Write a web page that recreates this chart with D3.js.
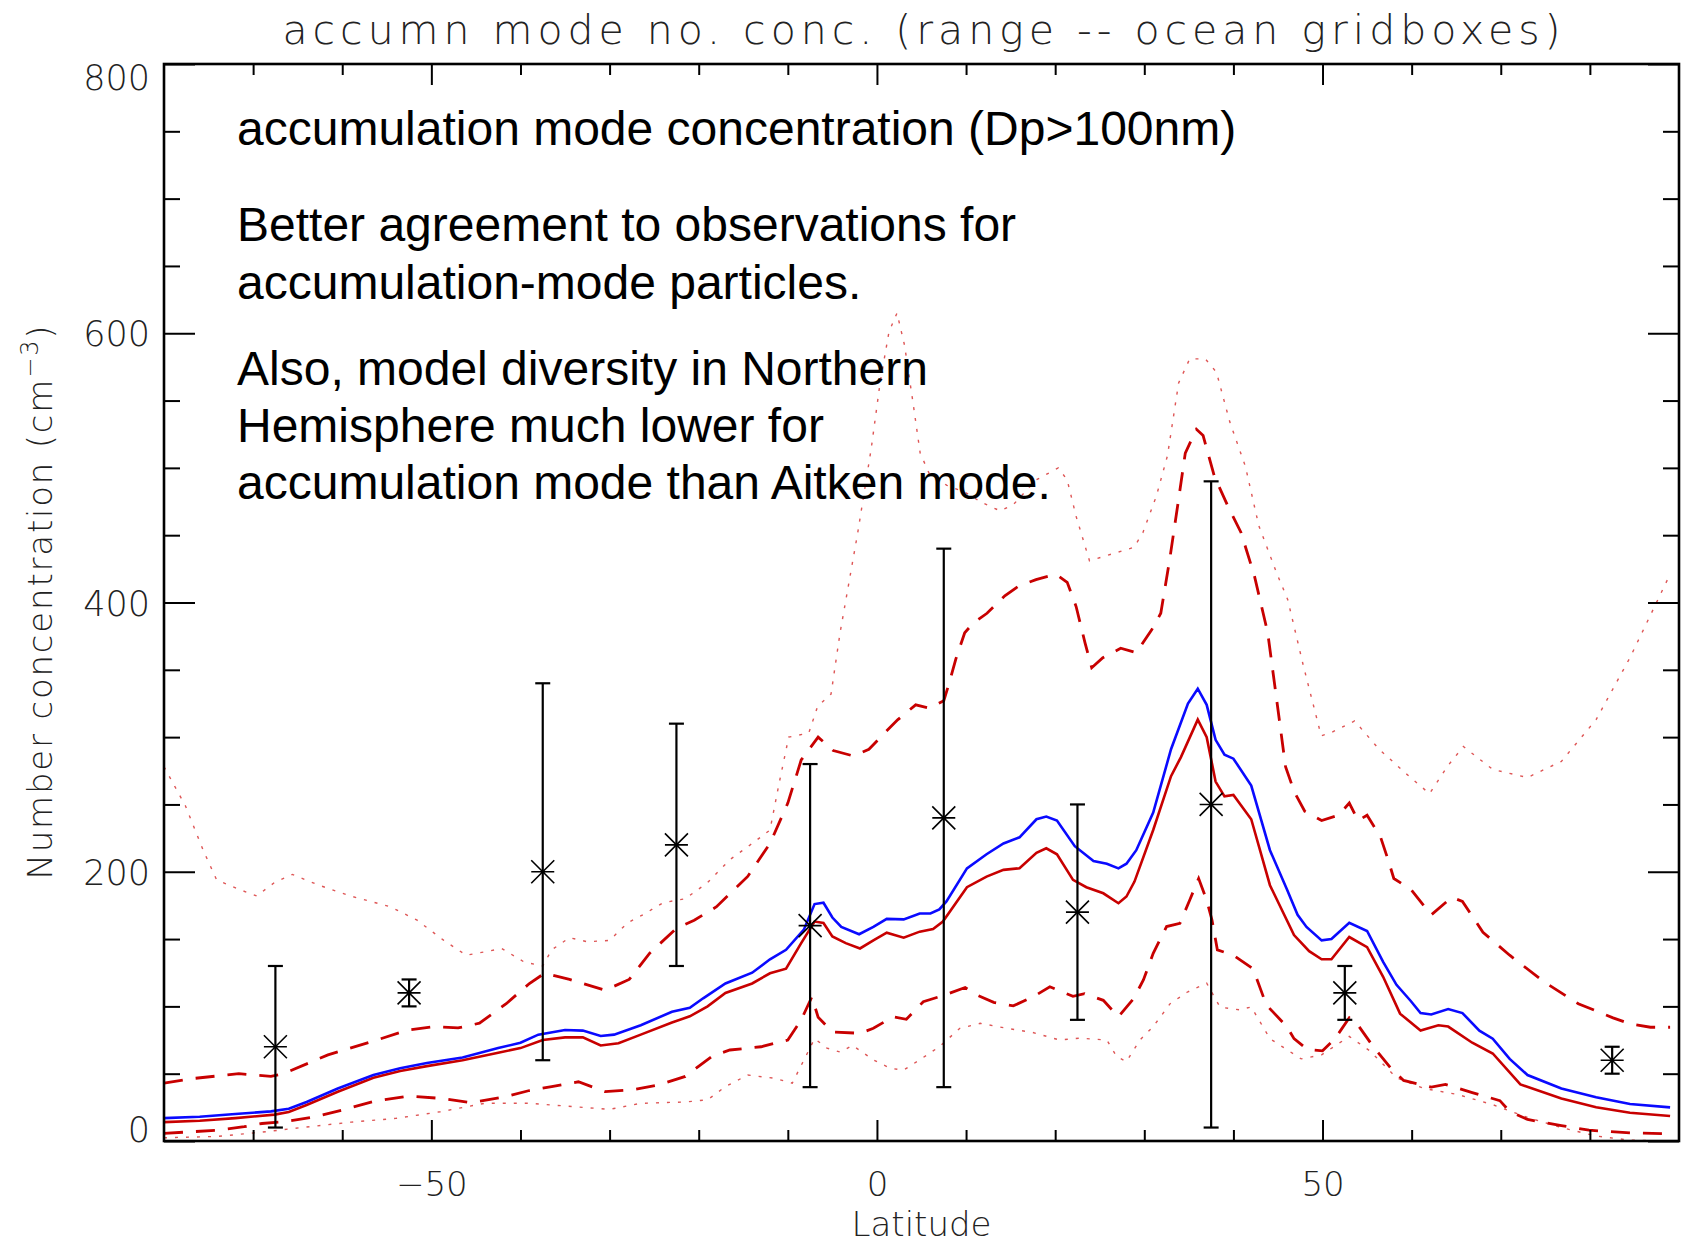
<!DOCTYPE html>
<html>
<head>
<meta charset="utf-8">
<script src="https://cdn.jsdelivr.net/npm/d3@7"></script>
<style>
  body { margin: 0; background: #fff; }
  .idl { font-family: "DejaVu Sans", sans-serif; font-weight: 200; fill: #222; }
  .note { font-family: "Liberation Sans", Arial, sans-serif; font-size: 48px; fill: #000; }
</style>
</head>
<body>
<div id="chart"></div>
<script>
// model zonal means (ocean gridboxes), [latitude, number conc. cm-3]
const blueMean = [[-80,17],[-76,18],[-72,20],[-68,22],[-66,24],[-64,29],[-60.5,39],[-56.5,49],[-53.5,54],
  [-50.5,58],[-46.5,62],[-42.5,69],[-40,73],[-38,79],[-35,82.5],[-33,82],[-31,78],[-29.5,79],[-26.5,86],
  [-23,96],[-21,99],[-19.5,106],[-17,117],[-14,125],[-12,135],[-10.2,142],[-8.2,157],[-7,176],[-6,177],
  [-5,166],[-4,159],[-2,153.6],[-0.4,159],[1.1,165],[3,164.6],[4.8,169],[6,169],[7,172],[7.8,178],
  [10.1,202.5],[12.3,213],[14.2,221],[16,225.6],[17.9,239],[19,241],[20.2,238],[22.2,219],[24.3,208],
  [25.8,206],[27.1,202.5],[28,206],[29.1,216],[31,244],[33,291],[34.9,325],[36,336],[37,324],[38,298],
  [39,287],[40,284],[42,264],[44.1,216],[46,187],[47.2,168],[48.2,159],[49.9,149],[51,150],[53,162],
  [55,156],[56.8,133],[58.3,116],[59.9,104],[61,95],[62.2,94],[64.1,98],[65.7,95],[67.6,82],[69.1,76],
  [71,61],[73,49],[76.8,39],[80.7,32.5],[84.5,27.5],[89,25]];

const redMean = [[-80,14],[-76,15],[-72,17],[-67.6,19.6],[-66,21.6],[-64,26.7],[-60.5,36.6],[-56.5,47],
  [-53.5,52],[-50.5,55.6],[-46.5,60],[-42.5,65.6],[-40,69],[-37.5,75],[-35,77],[-33,77],[-31,71],[-29,72.6],
  [-26.5,79],[-23,88],[-21,92.6],[-19,100],[-17,110],[-14,117],[-12,124.6],[-10.2,128],[-8.5,147],[-7,163],
  [-6,162],[-5,152],[-3.5,147],[-1.9,143],[-0.4,149],[1.1,154.7],[3,151],[4.8,155.5],[6.3,157.5],[7.4,163],
  [10.1,188.5],[12.3,196.4],[14.2,201.4],[16,202.6],[17.9,214],[19,217.4],[20.2,213],[22,194],[23.5,188.5],
  [25.4,184],[27.1,176.6],[28,181.6],[28.9,192.7],[31,231],[33,271],[34.1,285],[36,313],[37,300],[38,267],
  [39,256],[40,257],[42,239],[44.1,190],[46.8,153],[48.5,141],[49.9,135],[51,135],[53,151.5],[55,144],
  [56.8,122],[58.7,94.6],[61,82],[63,86],[64.1,85],[66.8,73],[69.1,65],[72.2,42],[76.8,31.5],[80.7,25],
  [84.5,21],[89,18.6]];

const redUpper = [[-80,43],[-76.6,46.5],[-71.6,50],[-68,48],[-66.6,50],[-61.6,64],[-56.6,74],[-52.6,82.5],
  [-49.6,85],[-47,84],[-44.6,87.5],[-41.6,102],[-39,117],[-37.3,124.6],[-34.5,120],[-30.5,112],[-27.8,120],
  [-25.5,139.5],[-22.5,158],[-20.5,164],[-18,174],[-14.5,196.5],[-12,221],[-10,251],[-8.5,283],[-6.6,300],
  [-4.9,290],[-2.65,286],[-0.9,291],[0.85,303],[2.35,313],[4.35,324],[5.85,321.6],[7.5,327],[8.1,340],
  [8.85,358],[9.85,377.5],[10.85,385],[12.35,392],[14.35,405],[15.85,412],[17.85,417],[20.1,421],[21.35,415],
  [22.35,397],[23.35,370],[24.1,351.5],[25.35,359],[27.35,366],[29.1,362.7],[30.85,380],[31.85,392],
  [32.85,432],[33.85,476.7],[34.6,511],[35.85,528.7],[36.6,524],[37.85,494],[39.35,472],[40.85,452],
  [42.35,420],[43.85,377.5],[44.85,328],[45.85,278],[46.85,259],[48,245],[49.9,238],[51.8,242],[53,251],
  [54,238],[55,242],[56.5,226],[57.4,208],[58,195],[59.9,187],[62.2,168],[64.5,181],[65.7,178],[68,155],
  [71,138],[74.9,118],[78.7,102],[82.6,91.5],[84.5,87],[86.8,84.5],[89,84.5]];

const redLower = [[-80,5.7],[-76.6,7],[-74,8],[-71,10.6],[-69,13],[-66.6,14.3],[-63,18],[-60,23],[-56.6,29.2],
  [-52.6,33.4],[-49,31.7],[-45.6,28.5],[-41.6,33],[-39,37.5],[-36.5,40.4],[-33.5,44],[-30.5,36.7],[-27.5,38],
  [-24.5,41.6],[-21.5,48],[-18.5,63],[-16.5,67.6],[-13,70],[-10,75],[-8.5,90],[-7.3,107],[-6.6,92],[-5,81],
  [-1.9,80],[-0.4,83.7],[1.8,92.3],[3.3,90.4],[5.2,103.5],[7.4,108],[9.9,114],[11.2,108.5],[13.1,103],
  [15.3,100.4],[17.5,107],[19.4,114.6],[22,107.5],[23.3,109.5],[25.4,104.5],[27.1,92.3],[28.8,105.8],
  [29.9,119.6],[31,139.4],[32.5,159.3],[34,161.7],[35.1,179],[36.1,195],[37,179],[37.6,164],[38.2,142],
  [40,138],[42.2,128],[43.7,101],[46,85],[46.8,76],[48.3,68],[50,67],[51.4,76],[53,91.5],[54.1,85],
  [55.7,70],[57.6,54.6],[59.1,45],[62.2,40],[63.8,42],[66.8,36],[69.9,30],[71,22],[73,16],[76.8,11.5],
  [79.9,8],[84.5,6],[89,5.4]];

const rangeMax = [[-80,278],[-77.6,249],[-75.6,216],[-74.1,194],[-71.6,187],[-69.6,182],[-67.6,192],[-65.6,198],
  [-62.6,190],[-59.1,182],[-54.6,174],[-51.6,164],[-48.6,149],[-46.1,138],[-43.6,141],[-42.1,143],[-39.6,133],
  [-37.5,130],[-36.5,142],[-34.5,151],[-32.5,148],[-30,149],[-28,162],[-26,169],[-24,177],[-21.5,180],
  [-19,192],[-16.5,209],[-14,221],[-12,231],[-11,265],[-9.9,300],[-7.65,303],[-6.65,323],[-5.15,332],
  [-4.15,377],[-2.15,452],[-0.65,514],[0.35,563],[1.35,601],[2.25,615],[3.1,591],[4.1,546],[4.85,511],
  [5.85,496],[7.85,487],[9.85,482],[11.85,474],[13.85,468],[15.35,473],[17.85,491],[20.35,500],[21.35,491],
  [22.35,464],[23.85,431],[25.85,435],[28.85,441],[29.85,452],[31.35,479],[32.6,509],[33.85,563],[35.1,581],
  [36.85,581],[38.1,571],[39.6,534],[41.35,501],[42.85,457],[44.85,422],[46.1,402],[47.85,353],[49.85,301],
  [50.85,303],[53.6,312],[56.35,291],[59.35,273],[62,258],[64.1,279],[65.8,293],[69.1,276],[73,270],
  [76.8,282],[80.7,313],[84.5,359],[89,421]];

const rangeMin = [[-80,2.4],[-74,3.4],[-69,6.6],[-64,10.4],[-59,14],[-54,16.8],[-49,21.7],[-44,28],[-39,28],
  [-34,25.5],[-30,23.5],[-26.5,28],[-21.5,29],[-19,30.6],[-17,40.4],[-14.5,49],[-11.5,46.6],[-9.5,43],
  [-8,62.7],[-7,76],[-5.6,69],[-4.1,66],[-2.75,71],[-0.4,60.3],[1.5,54],[3,52.7],[4.8,60.3],[7,70],
  [9.3,83.7],[11.6,87.4],[14.6,83.7],[17.5,80.6],[20.5,75],[22.8,76.4],[25.8,75],[26.9,62.7],[28,59],
  [29.5,75],[31,85],[32.9,102],[34.8,110.5],[37,117.3],[38.5,99.4],[40.7,97.4],[42,99.6],[44.1,76],
  [47.6,61],[49.9,64],[53,77.7],[55.3,67],[58.3,47],[61.4,39],[65.2,34.5],[69.1,27],[73,17.5],[76.8,10],
  [80.7,3.7],[84.5,0.6],[89,0]];

// observations in 15 degree latitude bands
const obsLat  = [-67.5, -52.5, -37.5, -22.5, -7.5, 7.5, 22.5, 37.5, 52.5, 82.5];
const obsMean = [70, 110, 200, 220, 160, 240, 170, 250, 110, 60];
const obsLow  = [10, 100, 60, 130, 40, 40, 90, 10, 90, 50];
const obsHigh = [130, 120, 340, 310, 280, 440, 250, 490, 130, 70];

const xMajor = [-50, 0, 50];
const xMinor = [-70, -60, -40, -30, -20, -10, 10, 20, 30, 40, 60, 70, 80];
const yMajor = [0, 200, 400, 600, 800];
const yMinor = [50, 100, 150, 250, 300, 350, 450, 500, 550, 650, 700, 750];

const notes = [
  "accumulation mode concentration (Dp>100nm)",
  "Better agreement to observations for",
  "accumulation-mode particles.",
  "Also, model diversity in Northern",
  "Hemisphere much lower for",
  "accumulation mode than Aitken mode."
];

const width = 1687, height = 1246;
const plot = { left: 164, right: 1679, top: 64, bottom: 1141 };

const svg = d3.select("#chart").append("svg")
    .attr("width", width)
    .attr("height", height)
    .style("display", "block");

svg.append("rect").attr("width", width).attr("height", height).attr("fill", "#fff");

const x = d3.scaleLinear().domain([-80, 90]).range([plot.left, plot.right]);
const y = d3.scaleLinear().domain([0, 800]).range([plot.bottom, plot.top]);

const line = d3.line()
    .x(d => x(d[0]))
    .y(d => y(d[1]));

const lines = svg.append("g").attr("fill", "none");

// dotted: full range over models
[rangeMax, rangeMin].forEach(s => {
  lines.append("path")
      .attr("d", line(s))
      .attr("stroke", "#d62a2a")
      .attr("stroke-opacity", 0.8)
      .attr("stroke-width", 1.4)
      .attr("stroke-dasharray", "3,8");
});

// dashed: spread
[redUpper, redLower].forEach(s => {
  lines.append("path")
      .attr("d", line(s))
      .attr("stroke", "#c80000")
      .attr("stroke-width", 2.8)
      .attr("stroke-dasharray", "19,13");
});

lines.append("path")
    .attr("d", line(redMean))
    .attr("stroke", "#c80000")
    .attr("stroke-width", 2.6);

lines.append("path")
    .attr("d", line(blueMean))
    .attr("stroke", "#0a0aff")
    .attr("stroke-width", 2.6);

// observations: error bars + asterisks
const obs = obsLat.map((lat, i) => ({ lat, mean: obsMean[i], lo: obsLow[i], hi: obsHigh[i] }));
const capW = 7.5, star = 11.5;

const og = svg.append("g").attr("stroke", "#000").attr("fill", "none");
const ob = og.selectAll("g.obs").data(obs).join("g").attr("class", "obs");

ob.append("line")
    .attr("x1", d => x(d.lat)).attr("x2", d => x(d.lat))
    .attr("y1", d => y(d.lo)).attr("y2", d => y(d.hi))
    .attr("stroke-width", 2.2);
ob.append("line")
    .attr("x1", d => x(d.lat) - capW).attr("x2", d => x(d.lat) + capW)
    .attr("y1", d => y(d.hi)).attr("y2", d => y(d.hi))
    .attr("stroke-width", 2.2);
ob.append("line")
    .attr("x1", d => x(d.lat) - capW).attr("x2", d => x(d.lat) + capW)
    .attr("y1", d => y(d.lo)).attr("y2", d => y(d.lo))
    .attr("stroke-width", 2.2);
ob.append("path")
    .attr("stroke-width", 1.6)
    .attr("d", d => {
      const cx = x(d.lat), cy = y(d.mean);
      return `M${cx - star},${cy}H${cx + star}` +
             `M${cx - star},${cy - star}L${cx + star},${cy + star}` +
             `M${cx - star},${cy + star}L${cx + star},${cy - star}`;
    });

// axes, ticks pointing inward on all four sides
function styleAxis(g) {
  g.select(".domain").remove();
  g.selectAll(".tick line").attr("stroke", "#000").attr("stroke-width", 2);
}

svg.append("g")
    .attr("transform", `translate(0,${plot.bottom})`)
    .call(d3.axisBottom(x).tickValues(xMinor).tickSize(-11).tickSizeOuter(0).tickFormat(""))
    .call(styleAxis);
const xb = svg.append("g")
    .attr("transform", `translate(0,${plot.bottom})`)
    .call(d3.axisBottom(x).tickValues(xMajor).tickSize(-21).tickSizeOuter(0).tickPadding(31))
    .call(styleAxis);
xb.selectAll(".tick text").attr("class", "idl").style("font-size", "34px");

svg.append("g")
    .attr("transform", `translate(0,${plot.top})`)
    .call(d3.axisTop(x).tickValues(xMinor).tickSize(-11).tickSizeOuter(0).tickFormat(""))
    .call(styleAxis);
svg.append("g")
    .attr("transform", `translate(0,${plot.top})`)
    .call(d3.axisTop(x).tickValues(xMajor).tickSize(-21).tickSizeOuter(0).tickFormat(""))
    .call(styleAxis);

svg.append("g")
    .attr("transform", `translate(${plot.left},0)`)
    .call(d3.axisLeft(y).tickValues(yMinor).tickSize(-16).tickSizeOuter(0).tickFormat(""))
    .call(styleAxis);
const yl = svg.append("g")
    .attr("transform", `translate(${plot.left},0)`)
    .call(d3.axisLeft(y).tickValues(yMajor).tickSize(-31).tickSizeOuter(0).tickPadding(14))
    .call(styleAxis);
yl.selectAll(".tick text")
    .attr("class", "idl")
    .style("font-size", "35px")
    .attr("dy", d => d === 800 ? "0.73em" : d === 0 ? "0em" : "0.36em");

svg.append("g")
    .attr("transform", `translate(${plot.right},0)`)
    .call(d3.axisRight(y).tickValues(yMinor).tickSize(-16).tickSizeOuter(0).tickFormat(""))
    .call(styleAxis);
svg.append("g")
    .attr("transform", `translate(${plot.right},0)`)
    .call(d3.axisRight(y).tickValues(yMajor).tickSize(-31).tickSizeOuter(0).tickFormat(""))
    .call(styleAxis);

svg.append("rect")
    .attr("x", plot.left).attr("y", plot.top)
    .attr("width", plot.right - plot.left).attr("height", plot.bottom - plot.top)
    .attr("fill", "none").attr("stroke", "#000").attr("stroke-width", 2.6);

// titles
const midX = (plot.left + plot.right) / 2;
svg.append("text")
    .attr("class", "idl")
    .attr("x", midX).attr("y", 44)
    .attr("text-anchor", "middle")
    .attr("textLength", 1278).attr("lengthAdjust", "spacing")
    .style("font-size", "41px")
    .text("accumn mode no. conc. (range -- ocean gridboxes)");

svg.append("text")
    .attr("class", "idl")
    .attr("x", midX).attr("y", 1236)
    .attr("text-anchor", "middle")
    .style("font-size", "34px")
    .text("Latitude");

const ylab = svg.append("text")
    .attr("class", "idl")
    .attr("transform", `translate(52,${(plot.top + plot.bottom) / 2}) rotate(-90)`)
    .attr("text-anchor", "middle")
    .attr("textLength", 554).attr("lengthAdjust", "spacing")
    .style("font-size", "34px");
ylab.append("tspan").text("Number concentration (cm");
ylab.append("tspan").attr("dy", -14).style("font-size", "24px").text("\u22123");
ylab.append("tspan").attr("dy", 14).text(")");

// annotation block
const noteBase = [145, 241, 299, 385, 442, 499];
svg.append("g").selectAll("text")
    .data(notes)
    .join("text")
    .attr("class", "note")
    .attr("x", 237)
    .attr("y", (d, i) => noteBase[i])
    .text(d => d);
</script>
</body>
</html>
